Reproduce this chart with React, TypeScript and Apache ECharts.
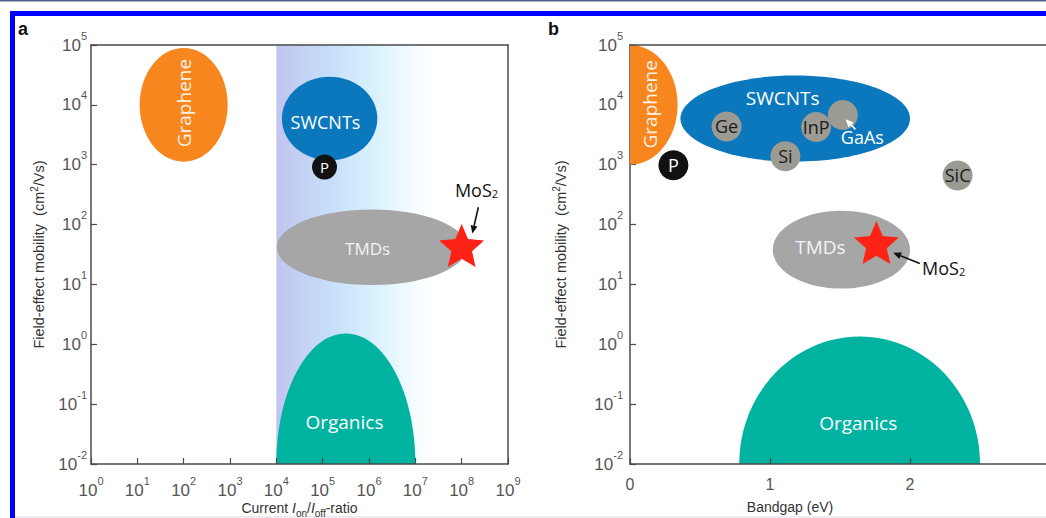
import React, { useEffect, useRef } from 'react';
import * as echarts from 'echarts';

// ---------- Panel a: x = log10(Ion/Ioff), y = log10(mobility, cm2/Vs) ----------
const aXRange = [0, 9];
const aYRange = [-2, 5];
const aBand = [4, 7.3]; // shaded switching region, log10 Ion/Ioff
const aRegionNames = ['Graphene', 'SWCNTs', 'TMDs', 'Organics'];
const aRegionX = [2.0, 5.15, 6.06, 5.5];
const aRegionY = [4.0, 3.77, 1.62, -2.0];
const aRegionRX = [0.95, 1.03, 2.05, 1.5];
const aRegionRY = [0.95, 0.7, 0.63, 2.18];
const aLabelX = [2.0, 5.06, 5.97, 5.47];
const aLabelY = [4.03, 3.72, 1.6, -1.3];
const aPhosphorene = [5.04, 2.96];
const aMoS2 = [8.0, 1.65];
const aMoS2Label = [8.32, 2.57];
const aMoS2Arrow = [8.36, 2.29, 8.23, 1.85];

// ---------- Panel b: x = bandgap (eV), y = log10(mobility) ----------
const bXRange = [0, 3];
const bYRange = [-2, 5];
const bRegionNames = ['Graphene', 'SWCNTs', 'TMDs', 'Organics'];
const bRegionX = [0, 1.18, 1.51, 1.64];
const bRegionY = [4.0, 3.77, 1.58, -2.0];
const bRegionRX = [0.34, 0.82, 0.49, 0.86];
const bRegionRY = [1.0, 0.72, 0.65, 2.13];
const bLabelX = [0.14, 1.09, 1.36, 1.63];
const bLabelY = [4.01, 4.11, 1.62, -1.31];
const bSemiNames = ['Ge', 'InP', 'GaAs', 'Si', 'SiC'];
const bSemiGap = [0.69, 1.33, 1.52, 1.11, 2.34];
const bSemiMob = [3.64, 3.63, 3.83, 3.14, 2.82];
const bPhosphorene = [0.31, 2.99];
const bMoS2 = [1.76, 1.7];
const bMoS2Label = [2.24, 1.27];
const bMoS2Arrow = [2.07, 1.35, 1.88, 1.53];
const bGaAsLabel = [1.66, 3.46];
const bGaAsArrow = [1.61, 3.59, 1.54, 3.76];

// ---------- styles ----------
const REGION_COLORS = ['#f7861f', '#0b78be', '#a6a6a6', '#00b3a1'];
const REGION_TEXT = ['#fff1e2', '#ffffff', '#f4f4f4', '#ffffff'];
const FONT_SHAPE = "'Open Sans', 'Noto Sans', sans-serif";
const FONT_AXIS = "'Liberation Sans', Arial, sans-serif";
const AXIS_COLOR = '#4a4a4a';
const LABEL_COLOR = '#555555';
const STAR = 'path://M50,2 L63.5,33.4 L97.6,36.6 L71.9,59.1 L79.4,92.5 L50,75 L20.6,92.5 L28.1,59.1 L2.4,36.6 L36.5,33.4 Z';

const logTickLabel = (v: number) => `{b|10}{s|${v}}`;
const logRich = {
  b: { fontSize: 17, lineHeight: 30, color: LABEL_COLOR, fontFamily: FONT_AXIS },
  s: { fontSize: 11, lineHeight: 12, verticalAlign: 'top', color: LABEL_COLOR, fontFamily: FONT_AXIS },
};

const ellipseRender = (params: any, api: any) => {
  const cx = api.value(0), cy = api.value(1), rx = api.value(2), ry = api.value(3);
  const c = api.coord([cx, cy]);
  const px = api.coord([cx + rx, cy]);
  const py = api.coord([cx, cy + ry]);
  return {
    type: 'ellipse',
    shape: { cx: c[0], cy: c[1], rx: Math.abs(px[0] - c[0]), ry: Math.abs(c[1] - py[1]) },
    style: { fill: api.visual('color') },
  };
};

const arrowRender = (color: string) => (params: any, api: any) => {
  const a = api.coord([api.value(0), api.value(1)]);
  const b = api.coord([api.value(2), api.value(3)]);
  const ang = Math.atan2(b[1] - a[1], b[0] - a[0]);
  const L = 8, W = 3.5;
  const base = [b[0] - L * Math.cos(ang), b[1] - L * Math.sin(ang)];
  const left = [base[0] + W * Math.sin(ang), base[1] - W * Math.cos(ang)];
  const right = [base[0] - W * Math.sin(ang), base[1] + W * Math.cos(ang)];
  return {
    type: 'group',
    children: [
      { type: 'line', shape: { x1: a[0], y1: a[1], x2: base[0], y2: base[1] }, style: { stroke: color, lineWidth: 1.6 } },
      { type: 'polygon', shape: { points: [b, left, right] }, style: { fill: color } },
    ],
  };
};

type TextItem = { text: string; x: number; y: number; color: string; size: number; rot?: number };
const textRender = (items: TextItem[]) => (params: any, api: any) => {
  const it = items[params.dataIndex];
  const p = api.coord([api.value(0), api.value(1)]);
  return {
    type: 'text',
    x: p[0],
    y: p[1],
    rotation: it.rot || 0,
    style: {
      text: it.text,
      fill: it.color,
      fontSize: it.size,
      fontFamily: FONT_SHAPE,
      align: 'center',
      verticalAlign: 'middle',
      rich: {
        sub: { fontSize: Math.round(it.size * 0.6), fill: it.color, fontFamily: FONT_SHAPE, verticalAlign: 'bottom', lineHeight: 2 },
      },
    },
  };
};

const buildRegionData = (names: string[], xs: number[], ys: number[], rxs: number[], rys: number[]) =>
  names.map((n, i) => ({ name: n, value: [xs[i], ys[i], rxs[i], rys[i]], itemStyle: { color: REGION_COLORS[i] } }));

const buildRegionText = (names: string[], xs: number[], ys: number[], sizes: number[]): TextItem[] =>
  names.map((n, i) => ({ text: n, x: xs[i], y: ys[i], color: REGION_TEXT[i], size: sizes[i], rot: n === 'Graphene' ? Math.PI / 2 : 0 }));

const frameAxis = (gridIndex: number, position: string, range: number[]) => ({
  gridIndex,
  type: 'value',
  position,
  min: range[0],
  max: range[1],
  z: 5,
  axisLine: { show: true, onZero: false, lineStyle: { color: AXIS_COLOR, width: 1.5 } },
  axisTick: { show: false },
  axisLabel: { show: false },
  splitLine: { show: false },
});

const App: React.FC = () => {
  const ref = useRef<HTMLDivElement>(null);

  useEffect(() => {
    if (!ref.current) return;
    const chart = echarts.init(ref.current, undefined, { renderer: 'svg' });

    const aTexts: TextItem[] = [
      ...buildRegionText(aRegionNames, aLabelX, aLabelY, [19, 18, 17, 19]),
      { text: 'MoS{sub|2}', x: aMoS2Label[0], y: aMoS2Label[1], color: '#111111', size: 18 },
    ];
    const bTexts: TextItem[] = [
      ...buildRegionText(bRegionNames, bLabelX, bLabelY, [19, 19, 19, 19]),
      { text: 'MoS{sub|2}', x: bMoS2Label[0], y: bMoS2Label[1], color: '#111111', size: 18 },
      { text: 'GaAs', x: bGaAsLabel[0], y: bGaAsLabel[1], color: '#ffffff', size: 18 },
    ];

    const axisLineStyle = { color: AXIS_COLOR, width: 1.5 };
    const tickStyle = { show: true, inside: true, length: 6, lineStyle: { color: AXIS_COLOR, width: 1.2 } };
    const nameStyle = {
      fontSize: 14,
      color: '#333333',
      fontFamily: FONT_AXIS,
      lineHeight: 20,
    };
    const yNameStyle = {
      ...nameStyle,
      fontSize: 14.5,
      rich: { sup: { fontSize: 10, fontFamily: FONT_AXIS, color: '#333333', verticalAlign: 'top', lineHeight: 10 } },
    };

    const option: any = {
      animation: false,
      backgroundColor: '#ffffff',
      grid: [
        { left: 91, top: 45, width: 417, height: 419, outerBoundsMode: 'none', containLabel: false },
        { left: 630, top: 45, width: 420, height: 419, outerBoundsMode: 'none', containLabel: false },
      ],
      xAxis: [
        {
          gridIndex: 0, type: 'value', min: aXRange[0], max: aXRange[1], interval: 1, z: 5,
          axisLine: { show: true, onZero: false, lineStyle: axisLineStyle },
          axisTick: tickStyle,
          splitLine: { show: false },
          axisLabel: { formatter: logTickLabel, rich: logRich, margin: 11, showMinLabel: true, showMaxLabel: true },
          name: 'Current {i|I}{sub|on}/{i|I}{sub|off}-ratio',
          nameLocation: 'middle',
          nameGap: 34,
          nameMoveOverlap: false,
          nameTextStyle: {
            ...nameStyle,
            rich: {
              i: { fontSize: 14, fontStyle: 'italic', fontFamily: FONT_AXIS, color: '#333333', lineHeight: 20 },
              sub: { fontSize: 10, fontFamily: FONT_AXIS, color: '#333333', verticalAlign: 'bottom', lineHeight: 10 },
            },
          },
        },
        {
          gridIndex: 1, type: 'value', min: bXRange[0], max: bXRange[1], interval: 1, z: 5,
          axisLine: { show: true, onZero: false, lineStyle: axisLineStyle },
          axisTick: tickStyle,
          splitLine: { show: false },
          axisLabel: { fontSize: 16, color: LABEL_COLOR, fontFamily: FONT_AXIS, margin: 12, showMinLabel: true, showMaxLabel: false },
          name: 'Bandgap (eV)',
          nameLocation: 'middle',
          nameGap: 33,
          nameMoveOverlap: false,
          nameTextStyle: { ...nameStyle, padding: [0, 100, 0, 0] },
        },
        frameAxis(0, 'top', aXRange),
        frameAxis(1, 'top', bXRange),
      ],
      yAxis: [
        {
          gridIndex: 0, type: 'value', min: aYRange[0], max: aYRange[1], interval: 1, z: 5,
          axisLine: { show: true, onZero: false, lineStyle: axisLineStyle },
          axisTick: tickStyle,
          splitLine: { show: false },
          axisLabel: { formatter: logTickLabel, rich: logRich, margin: 4, showMinLabel: true, showMaxLabel: true },
          name: 'Field-effect mobility  (cm{sup|2}/Vs)',
          nameLocation: 'middle',
          nameGap: 42,
          nameMoveOverlap: false,
          nameTextStyle: yNameStyle,
        },
        {
          gridIndex: 1, type: 'value', min: bYRange[0], max: bYRange[1], interval: 1, z: 0,
          axisLine: { show: true, onZero: false, lineStyle: axisLineStyle },
          axisTick: tickStyle,
          splitLine: { show: false },
          axisLabel: { formatter: logTickLabel, rich: logRich, margin: 7, showMinLabel: true, showMaxLabel: true },
          name: 'Field-effect mobility  (cm{sup|2}/Vs)',
          nameLocation: 'middle',
          nameGap: 59,
          nameMoveOverlap: false,
          nameTextStyle: yNameStyle,
        },
        frameAxis(0, 'right', aYRange),
      ],
      graphic: [
        { type: 'rect', shape: { x: 0, y: 0, width: 1064, height: 1.5 }, style: { fill: '#52628a' } },
        { type: 'rect', shape: { x: 10, y: 11, width: 1054, height: 5 }, style: { fill: '#0000ff' } },
        { type: 'rect', shape: { x: 10, y: 11, width: 5, height: 507 }, style: { fill: '#0000ff' } },
        { type: 'rect', shape: { x: 15, y: 516, width: 1049, height: 2 }, style: { fill: '#ececf2' } },
        { type: 'text', x: 18, y: 29, style: { text: 'a', fontSize: 18, fontWeight: 'bold', fontFamily: FONT_AXIS, fill: '#111', verticalAlign: 'middle' } },
        { type: 'text', x: 548, y: 29, style: { text: 'b', fontSize: 18, fontWeight: 'bold', fontFamily: FONT_AXIS, fill: '#111', verticalAlign: 'middle' } },
      ],
      series: [
        // panel a shaded band
        {
          type: 'custom', xAxisIndex: 0, yAxisIndex: 0, z: 1, clip: true,
          encode: { x: [0, 1] },
          data: [[aBand[0], aBand[1]]],
          renderItem: (params: any, api: any) => {
            const p0 = api.coord([api.value(0), aYRange[1]]);
            const p1 = api.coord([api.value(1), aYRange[0]]);
            return {
              type: 'rect',
              shape: { x: p0[0], y: p0[1], width: p1[0] - p0[0], height: p1[1] - p0[1] },
              style: {
                fill: new echarts.graphic.LinearGradient(0, 0, 1, 0, [
                  { offset: 0, color: '#c2c4ee' },
                  { offset: 0.35, color: '#c6dff9' },
                  { offset: 0.65, color: '#daf2fd' },
                  { offset: 1, color: '#ffffff' },
                ]),
              },
            };
          },
        },
        {
          type: 'custom', xAxisIndex: 0, yAxisIndex: 0, z: 2, clip: true,
          encode: { x: 0, y: 1 },
          data: buildRegionData(aRegionNames, aRegionX, aRegionY, aRegionRX, aRegionRY),
          renderItem: ellipseRender,
        },
        {
          type: 'custom', xAxisIndex: 1, yAxisIndex: 1, z: 2, clip: true,
          encode: { x: 0, y: 1 },
          data: buildRegionData(bRegionNames, bRegionX, bRegionY, bRegionRX, bRegionRY),
          renderItem: ellipseRender,
        },
        // black phosphorus
        {
          type: 'scatter', xAxisIndex: 0, yAxisIndex: 0, z: 3, symbolSize: 25,
          itemStyle: { color: '#111111', opacity: 1 },
          label: { show: true, position: 'inside', formatter: 'P', color: '#ffffff', fontSize: 15, fontFamily: FONT_SHAPE },
          data: [{ name: 'P', value: aPhosphorene }],
        },
        {
          type: 'scatter', xAxisIndex: 1, yAxisIndex: 1, z: 3, symbolSize: 30,
          itemStyle: { color: '#111111', opacity: 1 },
          label: { show: true, position: 'inside', formatter: 'P', color: '#ffffff', fontSize: 18, fontFamily: FONT_SHAPE },
          data: [{ name: 'P', value: bPhosphorene }],
        },
        // semiconductors
        {
          type: 'scatter', xAxisIndex: 1, yAxisIndex: 1, z: 3, symbolSize: 30,
          itemStyle: { color: '#9b9b93', opacity: 1 },
          label: {
            show: true, position: 'inside', color: '#1a1a1a', fontSize: 18, fontFamily: FONT_SHAPE,
            formatter: (p: any) => (p.name === 'GaAs' ? '' : p.name),
          },
          data: bSemiNames.map((n, i) => ({ name: n, value: [bSemiGap[i], bSemiMob[i]] })),
        },
        // MoS2 stars
        {
          type: 'scatter', xAxisIndex: 0, yAxisIndex: 0, z: 4, symbol: STAR, symbolSize: [45, 43],
          itemStyle: { color: '#ff2216', opacity: 1 },
          data: [{ name: 'MoS2', value: aMoS2 }],
        },
        {
          type: 'scatter', xAxisIndex: 1, yAxisIndex: 1, z: 4, symbol: STAR, symbolSize: [45, 43],
          itemStyle: { color: '#ff2216', opacity: 1 },
          data: [{ name: 'MoS2', value: bMoS2 }],
        },
        // texts
        {
          type: 'custom', xAxisIndex: 0, yAxisIndex: 0, z: 4,
          encode: { x: 0, y: 1 },
          data: aTexts.map((t) => [t.x, t.y]),
          renderItem: textRender(aTexts),
        },
        {
          type: 'custom', xAxisIndex: 1, yAxisIndex: 1, z: 4,
          encode: { x: 0, y: 1 },
          data: bTexts.map((t) => [t.x, t.y]),
          renderItem: textRender(bTexts),
        },
        // arrows
        {
          type: 'custom', xAxisIndex: 0, yAxisIndex: 0, z: 5,
          encode: { x: [0, 2], y: [1, 3] },
          data: [aMoS2Arrow],
          renderItem: arrowRender('#111111'),
        },
        {
          type: 'custom', xAxisIndex: 1, yAxisIndex: 1, z: 5,
          encode: { x: [0, 2], y: [1, 3] },
          data: [bMoS2Arrow],
          renderItem: arrowRender('#111111'),
        },
        {
          type: 'custom', xAxisIndex: 1, yAxisIndex: 1, z: 5,
          encode: { x: [0, 2], y: [1, 3] },
          data: [bGaAsArrow],
          renderItem: arrowRender('#ffffff'),
        },
      ],
    };

    chart.setOption(option);
    return () => chart.dispose();
  }, []);

  return (
    <div style={{ position: 'absolute', left: 0, top: 0, width: 1046, height: 518, overflow: 'hidden' }}>
      <div ref={ref} style={{ width: 1064, height: 518 }} />
    </div>
  );
};

export default App;
